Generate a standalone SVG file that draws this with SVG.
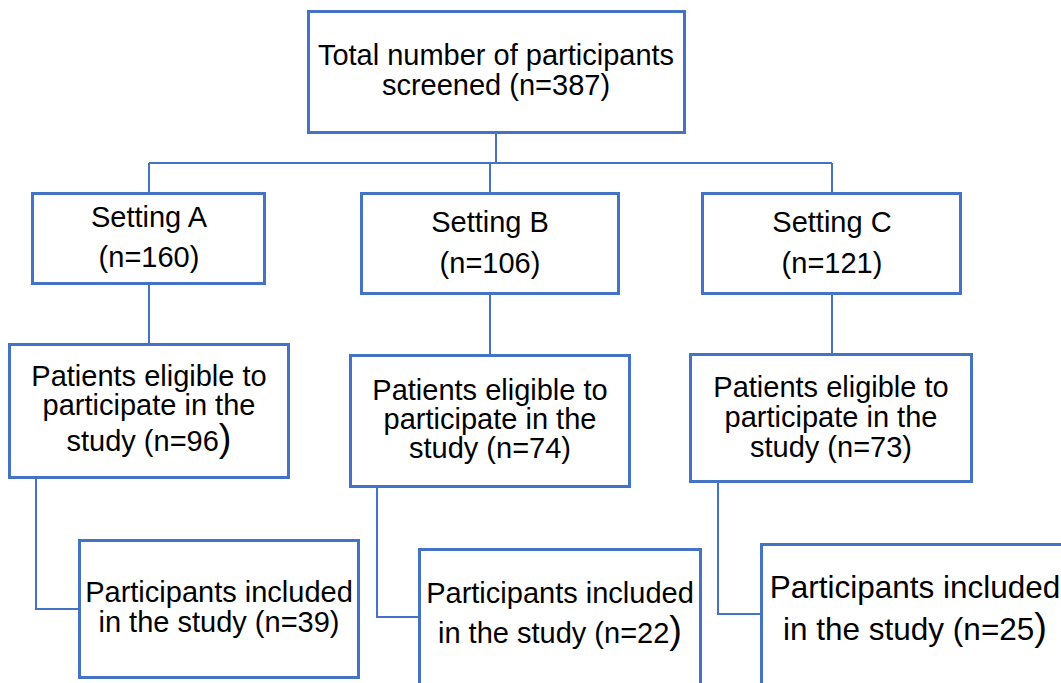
<svg xmlns="http://www.w3.org/2000/svg" width="1061" height="683" viewBox="0 0 1061 683">
<style>
.box{fill:#fff;stroke:#4472C4;stroke-width:3}
.con{fill:none;stroke:#4472C4;stroke-width:2}
text{font-family:"Liberation Sans",Arial,sans-serif;font-size:29px;fill:#000;text-anchor:middle}
.big{font-size:38px}
</style>
<rect width="1061" height="683" fill="#fff"/>
<g id="connectors">
<path class="con" d="M496 133V163M149 163H832M149 163V192M490 163V192M832 163V192"/>
<path class="con" d="M149 285V343M490 295V354M832 295V353"/>
<path class="con" d="M36 479V609H78M377 488V617H418M718 483V614H760"/>
</g>
<g id="total">
<rect class="box" x="308.5" y="11.5" width="376" height="121"/>
<text x="496" y="65">Total number of participants</text>
<text x="496" y="95">screened (n=387)</text>
</g>
<g id="settingA">
<rect class="box" x="32.5" y="193.5" width="232" height="90"/>
<text x="149" y="227">Setting A</text>
<text x="149" y="267">(n=160)</text>
</g>
<g id="settingB">
<rect class="box" x="361.5" y="193.5" width="257" height="100"/>
<text x="490" y="232">Setting B</text>
<text x="490" y="273">(n=106)</text>
</g>
<g id="settingC">
<rect class="box" x="702.5" y="193.5" width="258" height="100"/>
<text x="832" y="232">Setting C</text>
<text x="832" y="273">(n=121)</text>
</g>
<g id="eligibleA">
<rect class="box" x="9.5" y="344.5" width="279" height="133"/>
<text x="149" y="386">Patients eligible to</text>
<text x="149" y="415">participate in the</text>
<text x="149" y="451">study (n=96<tspan class="big">)</tspan></text>
</g>
<g id="eligibleB">
<rect class="box" x="350.5" y="355.5" width="279" height="131"/>
<text x="490" y="400">Patients eligible to</text>
<text x="490" y="429">participate in the</text>
<text x="490" y="458">study (n=74)</text>
</g>
<g id="eligibleC">
<rect class="box" x="690.5" y="354.5" width="281" height="127"/>
<text x="831" y="397">Patients eligible to</text>
<text x="831" y="427">participate in the</text>
<text x="831" y="457">study (n=73)</text>
</g>
<g id="includedA">
<rect class="box" x="79.5" y="540.5" width="279" height="137"/>
<text x="219" y="602">Participants included</text>
<text x="219" y="632">in the study (n=39)</text>
</g>
<g id="includedB">
<rect class="box" x="419.5" y="549.5" width="281" height="150"/>
<text x="560" y="603">Participants included</text>
<text x="560" y="643">in the study (n=22<tspan class="big">)</tspan></text>
</g>
<g id="includedC">
<rect class="box" x="761.5" y="544.5" width="310" height="160"/>
<text x="915" y="598" style="font-size:31.5px">Participants included</text>
<text x="915" y="640" style="font-size:31.5px">in the study (n=25<tspan class="big">)</tspan></text>
</g>
</svg>
